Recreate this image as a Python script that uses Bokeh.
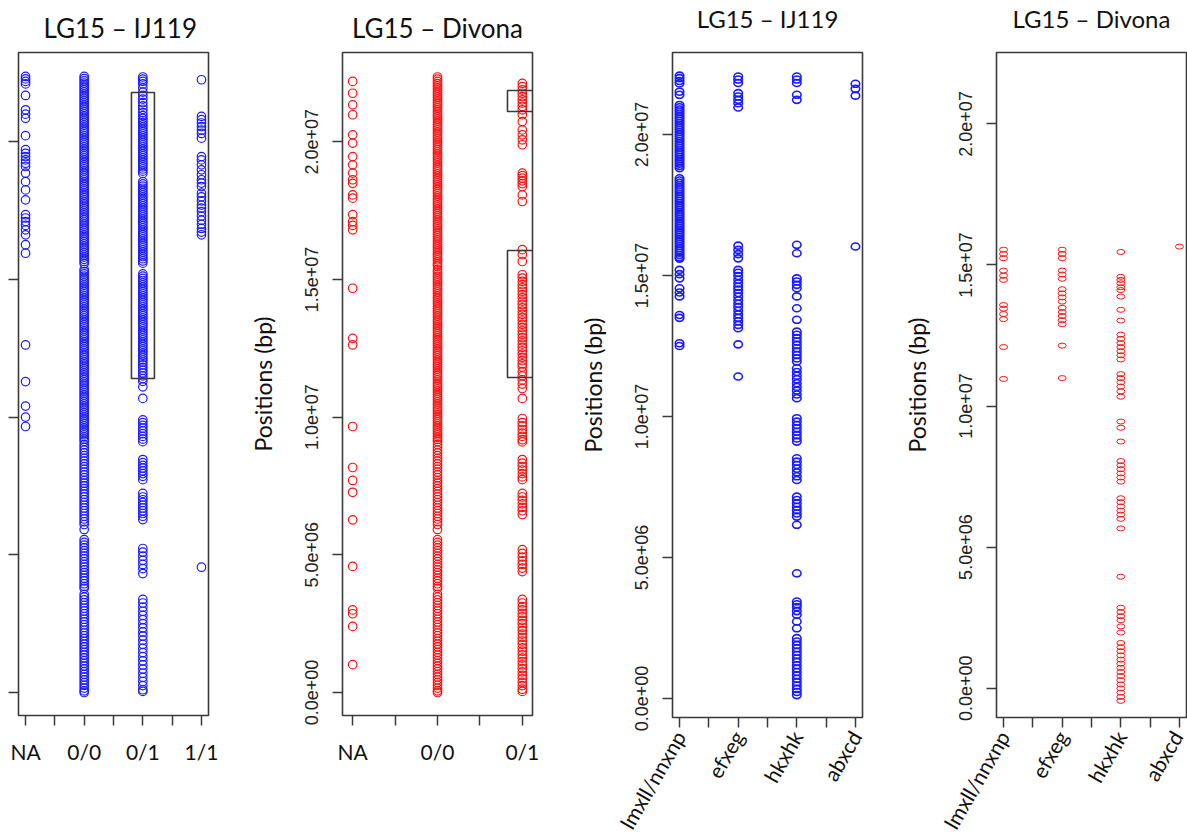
import math
from bokeh.plotting import figure
from bokeh.layouts import row
from bokeh.models import FixedTicker, Range1d, LinearAxis
from bokeh.embed import file_html
from bokeh.resources import INLINE

MB = 1e6

# ---------------- data (positions in Mb) ----------------
geno_cats = ["NA", "0/0", "0/1", "1/1"]
seg_cats = ["lmxll/nnxnp", "efxeg", "hkxhk", "abxcd"]

# LG15 - IJ119, genotype classes
ij_na = [22.37, 22.28, 22.19, 22.1, 21.68, 21.16, 21.0, 20.85, 20.22, 19.71, 19.58, 19.46,
         19.34, 19.22, 19.1, 18.86, 18.55, 18.25, 17.89, 17.35, 17.23, 17.1, 16.96, 16.8,
         16.62, 16.26, 15.95, 12.62, 11.29, 10.4, 10.0, 9.66]
ij_00 = [22.37, 22.29, 22.21, 22.13, 22.05, 21.97, 21.89, 21.81, 21.73, 21.65, 21.57, 21.49,
         21.41, 21.33, 21.25, 21.17, 21.09, 21.01, 20.93, 20.85, 20.77, 20.69, 20.61, 20.53,
         20.45, 20.37, 20.29, 20.21, 20.13, 20.05, 19.97, 19.89, 19.81, 19.73, 19.65, 19.57,
         19.49, 19.41, 19.33, 19.25, 19.17, 19.09, 19.01, 18.93, 18.85, 18.77, 18.69, 18.61,
         18.53, 18.45, 18.37, 18.29, 18.21, 18.13, 18.05, 17.97, 17.89, 17.81, 17.73, 17.65,
         17.57, 17.49, 17.41, 17.33, 17.25, 17.17, 17.09, 17.01, 16.93, 16.85, 16.77, 16.69,
         16.61, 16.53, 16.45, 16.37, 16.29, 16.21, 16.13, 16.05, 15.97, 15.89, 15.81, 15.73,
         15.65, 15.57,
         15.36, 15.28, 15.2, 15.12, 15.04, 14.96, 14.88, 14.8, 14.72, 14.64, 14.56, 14.48,
         14.4, 14.32, 14.24, 14.16, 14.08, 14.0, 13.92, 13.84, 13.76, 13.68, 13.6, 13.52,
         13.44, 13.36, 13.28, 13.2, 13.12, 13.04, 12.96, 12.88, 12.8, 12.72, 12.64, 12.56,
         12.48, 12.4, 12.32, 12.24, 12.16, 12.08, 12.0, 11.92, 11.84, 11.76, 11.68, 11.6,
         11.52, 11.44, 11.36, 11.28, 11.2, 11.12, 11.04, 10.96, 10.88, 10.8, 10.72, 10.64,
         10.56, 10.48, 10.4, 10.32, 10.24, 10.16, 10.08, 10.0, 9.92, 9.84, 9.76, 9.68, 9.6,
         9.52, 9.44, 9.36, 9.28, 9.2, 9.12,
         9.0, 8.9, 8.8, 8.7, 8.6, 8.5, 8.4, 8.3, 8.2, 8.1, 8.0, 7.9, 7.8, 7.7, 7.6, 7.5, 7.4,
         7.3, 7.2, 7.1, 7.0, 6.9, 6.8, 6.7, 6.6, 6.5, 6.4, 6.3, 6.2, 6.1, 5.92,
         5.55, 5.45, 5.35, 5.25, 5.15, 5.05, 4.95, 4.85, 4.75, 4.65, 4.55, 4.45, 4.35, 4.25,
         4.15, 4.05, 3.95, 3.85, 3.78,
         3.56, 3.46, 3.36, 3.26, 3.16, 3.06, 2.96, 2.86, 2.76, 2.66, 2.56, 2.46, 2.36, 2.26,
         2.16, 2.06, 1.96, 1.86, 1.76, 1.66, 1.56, 1.46, 1.36, 1.26, 1.16, 1.06, 0.96, 0.86,
         0.76, 0.66, 0.56, 0.46, 0.36, 0.26, 0.16, 0.06, 0.0]
ij_01 = [22.35, 22.27, 22.19, 22.1, 21.95, 21.8, 21.68, 21.55, 21.42, 21.3, 21.18, 21.06,
         20.95, 20.85, 20.77, 20.69, 20.61, 20.53, 20.45, 20.37, 20.29, 20.21, 20.13, 20.05,
         19.97, 19.89, 19.81, 19.73, 19.65, 19.57, 19.49, 19.41, 19.33, 19.25, 19.17, 19.09,
         19.01, 18.93, 18.85,
         18.55, 18.47, 18.39, 18.31, 18.23, 18.15, 18.07, 17.99, 17.91, 17.83, 17.75, 17.67,
         17.59, 17.51, 17.43, 17.35, 17.27, 17.19, 17.11, 17.03, 16.95, 16.87, 16.79, 16.71,
         16.63, 16.55, 16.47, 16.39, 16.31, 16.23, 16.15, 16.07, 15.99, 15.91, 15.83, 15.75,
         15.67, 15.59,
         15.2, 15.12, 15.04, 14.96, 14.88, 14.8, 14.72, 14.64, 14.56, 14.48, 14.4, 14.32,
         14.24, 14.16, 14.08, 14.0, 13.92, 13.84, 13.76, 13.68, 13.6, 13.52, 13.44, 13.36,
         13.28, 13.2, 13.12, 13.04, 12.96, 12.88, 12.8, 12.72, 12.64, 12.56, 12.48, 12.4,
         12.32, 12.24, 12.16, 12.08, 12.0, 11.9, 11.8, 11.7, 11.6, 11.5, 11.4, 11.3, 11.1,
         10.68,
         9.9, 9.8, 9.7, 9.6, 9.5, 9.4, 9.3, 9.2, 9.11,
         8.46, 8.35, 8.25, 8.15, 8.05, 7.95, 7.85, 7.73,
         7.23, 7.1, 7.0, 6.9, 6.8, 6.7, 6.6, 6.5, 6.4, 6.28,
         5.23, 5.1, 4.95, 4.8, 4.65, 4.5, 4.32,
         3.38, 3.25, 3.1, 2.95, 2.8, 2.65, 2.5, 2.35, 2.2, 2.05, 1.9, 1.75, 1.6, 1.45, 1.3,
         1.15, 1.0, 0.85, 0.7, 0.55, 0.4, 0.25, 0.1, 0.04]
ij_11 = [22.25, 20.92, 20.8, 20.68, 20.55, 20.42, 20.3, 20.13, 19.46, 19.34, 19.16, 18.98,
         18.8, 18.62, 18.5, 18.37, 18.13, 18.0, 17.85, 17.7, 17.59, 17.46, 17.3, 17.15, 17.0,
         16.85, 16.72, 16.62, 4.55]

# LG15 - Divona, genotype classes
dv_na = [22.19, 21.76, 21.34, 20.98, 20.25, 19.95, 19.46, 19.16, 18.86, 18.62, 18.49, 18.07,
         17.95, 17.35, 17.1, 16.96, 16.8, 14.68, 12.86, 12.62, 9.66, 8.17, 7.7, 7.27, 6.27,
         4.58, 3.0, 2.86, 2.4, 1.01]
dv_00 = [22.35, 22.27, 22.19, 22.11, 22.03, 21.95, 21.87, 21.79, 21.71, 21.63, 21.55, 21.47,
         21.39, 21.31, 21.23, 21.15, 21.07, 20.99, 20.91, 20.83, 20.75, 20.67, 20.59, 20.51,
         20.43, 20.35, 20.27, 20.19, 20.11, 20.03, 19.95, 19.87, 19.79, 19.71, 19.63, 19.55,
         19.47, 19.39, 19.31, 19.23, 19.15, 19.07, 18.99, 18.91, 18.83, 18.75, 18.67, 18.59,
         18.51, 18.43, 18.35, 18.27, 18.19, 18.11, 18.03, 17.95, 17.87, 17.79, 17.71, 17.63,
         17.55, 17.47, 17.39, 17.31, 17.23, 17.15, 17.07, 16.99, 16.91, 16.83, 16.75, 16.67,
         16.59, 16.51, 16.43, 16.35, 16.27, 16.19, 16.11, 16.03, 15.95, 15.87, 15.79, 15.71,
         15.63, 15.55, 15.48,
         15.35, 15.27, 15.19, 15.11, 15.03, 14.95, 14.87, 14.79, 14.71, 14.63, 14.55, 14.47,
         14.39, 14.31, 14.23, 14.15, 14.07, 13.99, 13.91, 13.83, 13.75, 13.67, 13.59, 13.51,
         13.43, 13.35, 13.27, 13.19, 13.11, 13.03, 12.95, 12.87, 12.79, 12.71, 12.63, 12.55,
         12.47, 12.39, 12.31, 12.23, 12.15, 12.07, 11.99, 11.91, 11.83, 11.75, 11.67, 11.59,
         11.51, 11.43, 11.35, 11.27, 11.19, 11.11, 11.03, 10.95, 10.87, 10.79, 10.71, 10.63,
         10.55, 10.47, 10.39, 10.31, 10.23, 10.15, 10.07, 9.99, 9.91, 9.83, 9.75, 9.67, 9.59,
         9.51, 9.43, 9.35, 9.27, 9.19, 9.11,
         9.0, 8.9, 8.8, 8.7, 8.6, 8.5, 8.4, 8.3, 8.2, 8.1, 8.0, 7.9, 7.8, 7.7, 7.6, 7.5, 7.4,
         7.3, 7.2, 7.1, 7.0, 6.9, 6.8, 6.7, 6.6, 6.5, 6.4, 6.3, 6.2, 6.1, 5.92,
         5.55, 5.45, 5.35, 5.25, 5.15, 5.05, 4.95, 4.85, 4.75, 4.65, 4.55, 4.45, 4.35, 4.25,
         4.15, 4.05, 3.95, 3.85, 3.78,
         3.56, 3.46, 3.36, 3.26, 3.16, 3.06, 2.96, 2.86, 2.76, 2.66, 2.56, 2.46, 2.36, 2.26,
         2.16, 2.06, 1.96, 1.86, 1.76, 1.66, 1.56, 1.46, 1.36, 1.26, 1.16, 1.06, 0.96, 0.86,
         0.76, 0.66, 0.56, 0.46, 0.36, 0.26, 0.16, 0.06, 0.0]
dv_01 = [22.12, 22.0, 21.88, 21.76, 21.64, 21.52, 21.4, 21.28, 21.16, 20.98, 20.73, 20.43,
         20.25, 20.07, 19.89, 18.86, 18.77, 18.68, 18.58, 18.48, 18.37, 18.07, 17.83, 16.08,
         15.9, 15.65,
         15.17, 15.05, 14.93, 14.81, 14.69, 14.57, 14.45, 14.33, 14.21, 14.09, 13.97, 13.85,
         13.73, 13.61, 13.49, 13.37, 13.25, 13.13, 13.01, 12.89, 12.77, 12.65, 12.53, 12.41,
         12.29, 12.17, 12.05, 11.93, 11.82,
         11.65, 11.5, 11.35, 11.2, 11.04, 10.68,
         9.95, 9.8, 9.68, 9.55, 9.42, 9.3, 9.18, 9.1,
         8.46, 8.33, 8.2, 8.08, 7.95, 7.83, 7.73,
         7.23, 7.1, 6.98, 6.85, 6.72, 6.6, 6.46,
         5.19, 5.05, 4.92, 4.78, 4.65, 4.52, 4.39,
         3.38, 3.25, 3.12, 3.0, 2.87, 2.75, 2.62, 2.5, 2.37, 2.25, 2.12, 2.0, 1.87, 1.75,
         1.62, 1.5, 1.37, 1.25, 1.12, 1.0, 0.87, 0.75, 0.62, 0.5, 0.37, 0.25, 0.12, 0.04]

# LG15 - IJ119, segregation types
ij_lm = [22.09, 22.0, 21.9, 21.81, 21.52, 21.41,
         21.05, 20.97, 20.89, 20.81, 20.73, 20.65, 20.57, 20.49, 20.41, 20.33, 20.25, 20.17,
         20.09, 20.01, 19.93, 19.85, 19.77, 19.69, 19.61, 19.53, 19.45, 19.37, 19.29, 19.21,
         19.13, 19.05, 18.97, 18.89, 18.81,
         18.45, 18.37, 18.29, 18.21, 18.13, 18.05, 17.97, 17.89, 17.81, 17.73, 17.65, 17.57,
         17.49, 17.41, 17.33, 17.25, 17.17, 17.09, 17.01, 16.93, 16.85, 16.77, 16.69, 16.61,
         16.53, 16.45, 16.37, 16.29, 16.21, 16.13, 16.05, 15.97, 15.89, 15.81, 15.73, 15.65,
         15.6, 15.2, 15.05, 14.9, 14.55, 14.4, 14.26, 13.6, 13.5, 12.6, 12.5]
ij_ef = [22.06, 21.95, 21.83, 21.47, 21.35, 21.23, 21.11, 20.96, 16.06, 15.91, 15.76, 15.61,
         15.2, 15.1, 14.98, 14.85, 14.72, 14.6, 14.5, 14.38, 14.25, 14.12, 14.0, 13.88,
         13.75, 13.62, 13.5, 13.38, 13.25, 13.13, 12.56, 11.42]
ij_hk = [22.06, 21.95, 21.83, 21.41, 21.23, 16.09, 15.79, 14.9, 14.79, 14.67, 14.55, 14.26,
         13.84, 13.43, 13.01, 12.9, 12.78, 12.66, 12.54, 12.42, 12.3, 12.18, 12.06, 11.95,
         11.71, 11.58, 11.45, 11.32, 11.18, 11.05, 10.92, 10.78, 10.65,
         9.94, 9.82, 9.7, 9.58, 9.46, 9.34, 9.22, 9.11, 8.52, 8.4, 8.28, 8.15, 8.02, 7.88,
         7.75, 7.16, 7.04, 6.92, 6.8, 6.68, 6.56, 6.45, 6.16, 4.44, 3.44, 3.34, 3.24, 3.1,
         2.97, 2.73, 2.49, 2.14, 2.02, 1.9, 1.78, 1.66, 1.54, 1.42, 1.3, 1.18, 1.06, 0.94,
         0.82, 0.7, 0.58, 0.46, 0.34, 0.23, 0.12]
ij_ab = [21.8, 21.62, 21.38, 16.03]

# LG15 - Divona, segregation types
dv_lm = [15.54, 15.39, 15.24, 14.8, 14.62, 14.47, 13.58, 13.45, 13.26, 13.08, 12.09, 10.96]
dv_ef = [15.54, 15.39, 15.24, 14.8, 14.66, 14.51, 14.14, 13.99, 13.85, 13.7, 13.48, 13.33,
         13.19, 13.04, 12.9, 12.14, 10.99]
dv_hk = [15.46, 14.58, 14.47, 14.35, 14.21, 14.11, 13.88, 13.41, 13.03, 12.53, 12.38, 12.23,
         12.09, 11.94, 11.8, 11.65, 11.13, 10.99, 10.84, 10.69, 10.52, 10.33, 9.45, 9.23,
         8.74, 8.05, 7.9, 7.76, 7.61, 7.47, 7.32, 6.73, 6.59, 6.44, 6.29, 6.15, 6.0, 5.66,
         3.95, 2.85, 2.7, 2.55, 2.41, 2.19, 1.97, 1.6, 1.45, 1.31, 1.16, 1.01, 0.87, 0.72,
         0.57, 0.43, 0.28, 0.13, -0.01, -0.16, -0.31, -0.45]
dv_ab = [15.65]

# highlighted regions (category position span, Mb span)
ij_box = dict(left=[2.806], right=[3.198], bottom=[11.40], top=[21.79])
dv_box = dict(left=[2.825, 2.825], right=[3.3, 3.3], bottom=[21.10, 11.44], top=[21.86, 16.05])

y_ticks = [0, 5e6, 1e7, 1.5e7, 2e7]
y_tick_labels = ["0.0e+00", "5.0e+06", "1.0e+07", "1.5e+07", "2.0e+07"]

# ---------------- styling ----------------
BLUE = "#1a1aff"
RED = "#ff1010"
DARK = "#3a3a3a"
FONT = "Lato"
TOP = 51
FRAME_W = 190


def make_fig(left, right, frame_h, x_rng, y_rng, title, title_size, title_align,
             title_offset, title_mode, cats, rotated, show_y_labels):
    bottom = 835 - TOP - frame_h
    p = figure(frame_width=FRAME_W, frame_height=frame_h,
               min_border_left=left, min_border_right=right,
               min_border_top=TOP, min_border_bottom=bottom,
               x_range=Range1d(*x_rng), y_range=Range1d(*y_rng),
               output_backend="svg", toolbar_location=None, tools="")
    bx = p.below[0]   # category axis
    ly = p.left[0]    # position axis

    p.xgrid.visible = False
    p.ygrid.visible = False
    p.outline_line_color = DARK
    p.outline_line_width = 1.6
    p.background_fill_color = "white"
    p.border_fill_color = "white"

    for ax in (bx, ly):
        ax.axis_line_color = None
        ax.major_tick_out = 10
        ax.major_tick_in = 0
        ax.major_tick_line_color = DARK
        ax.major_tick_line_width = 1.5
        ax.minor_tick_line_color = None

    n = len(cats)
    xt = [1 + 0.5 * i for i in range(2 * n - 1)]
    bx.ticker = FixedTicker(ticks=xt)
    bx.major_label_overrides = {t: (cats[int(t) - 1] if float(t).is_integer() else "")
                                for t in xt}
    bx.major_label_text_font = FONT
    bx.major_label_text_font_size = "21px"
    bx.major_label_text_color = "#111111"
    if rotated:
        bx.major_label_orientation = math.radians(60)
        bx.major_label_standoff = 5
    else:
        bx.major_label_standoff = 13

    ly.ticker = FixedTicker(ticks=y_ticks)
    if show_y_labels:
        ly.major_label_overrides = dict(zip(y_ticks, y_tick_labels))
        ly.major_label_orientation = "vertical"
        ly.major_label_text_font = "Liberation Sans"
        ly.major_label_text_font_size = "18px"
        ly.major_label_text_color = "#222222"
        ly.major_label_standoff = 14
        ly.axis_label = "Positions (bp)"
        ly.axis_label_text_font = FONT
        ly.axis_label_text_font_size = "23px"
        ly.axis_label_text_font_style = "normal"
        ly.axis_label_text_color = "#111111"
        ly.axis_label_standoff = 26
    else:
        ly.major_label_overrides = {t: "" for t in y_ticks}
        ly.major_label_standoff = 0
        ly.major_label_text_font_size = "0px"

    if title_mode == "title":
        p.title.text = title
        p.title.text_font = FONT
        p.title.text_font_size = title_size
        p.title.text_font_style = "normal"
        p.title.text_color = "#111111"
        p.title.align = title_align
        p.title.offset = title_offset
        p.title.vertical_align = "bottom"
        p.title.standoff = 18
    else:
        # title drawn as the label of a bare axis above the frame (finer vertical control)
        tax = LinearAxis(ticker=FixedTicker(ticks=[]), axis_line_color=None,
                         major_tick_line_color=None, minor_tick_line_color=None,
                         major_tick_out=0, major_tick_in=0, minor_tick_out=0,
                         minor_tick_in=0, major_label_standoff=0,
                         axis_label=title, axis_label_text_font=FONT,
                         axis_label_text_font_size=title_size,
                         axis_label_text_font_style="normal",
                         axis_label_text_color="#111111", axis_label_standoff=20)
        p.add_layout(tax, "above")
    return p


def rings(p, groups, color, size, lw):
    for i, vals in enumerate(groups):
        p.scatter(x=[i + 1] * len(vals), y=[v * MB for v in vals], marker="circle",
                  size=size, fill_color=None, line_color=color, line_width=lw)


def ovals(p, groups, color, w, h, lw):
    for i, vals in enumerate(groups):
        p.ellipse(x=[i + 1] * len(vals), y=[v * MB for v in vals], width=w, height=h,
                  width_units="screen", height_units="screen",
                  fill_color=None, line_color=color, line_width=lw)


def boxes(p, b):
    p.quad(left=b["left"], right=b["right"],
           bottom=[v * MB for v in b["bottom"]], top=[v * MB for v in b["top"]],
           fill_color=None, line_color=DARK, line_width=1.6)


# panel 1: LG15 - IJ119 genotypes
p1 = make_fig(18, 32, 663, (0.88, 4.12), (-0.835e6, 23.24e6), "LG15 – IJ119", "26px",
              "left", 25, "title", geno_cats, False, False)
rings(p1, [ij_na, ij_00, ij_01, ij_11], BLUE, 8.5, 1.2)
boxes(p1, ij_box)

# panel 2: LG15 - Divona genotypes
p2 = make_fig(102, 38, 663, (0.88, 3.12), (-0.835e6, 23.24e6), "LG15 – Divona", "26px",
              "center", 0, "title", geno_cats[:3], False, True)
rings(p2, [dv_na, dv_00, dv_01], RED, 8.5, 1.2)
boxes(p2, dv_box)

# panel 3: LG15 - IJ119 segregation types
p3 = make_fig(102, 18, 665, (0.88, 4.12), (-0.674e6, 22.91e6), "LG15 – IJ119", "24px",
              "center", 0, "axis", seg_cats, True, True)
ovals(p3, [ij_lm, ij_ef, ij_hk, ij_ab], BLUE, 8.5, 7.0, 1.6)

# panel 4: LG15 - Divona segregation types
p4 = make_fig(116, 1, 665, (0.88, 4.12), (-1.04e6, 22.53e6), "LG15 – Divona", "24px",
              "center", 0, "axis", seg_cats, True, True)
ovals(p4, [dv_lm, dv_ef, dv_hk, dv_ab], RED, 8.0, 5.0, 1.0)

layout = row(p1, p2, p3, p4, spacing=0)
open("out.html", "w").write(file_html(layout, INLINE))
